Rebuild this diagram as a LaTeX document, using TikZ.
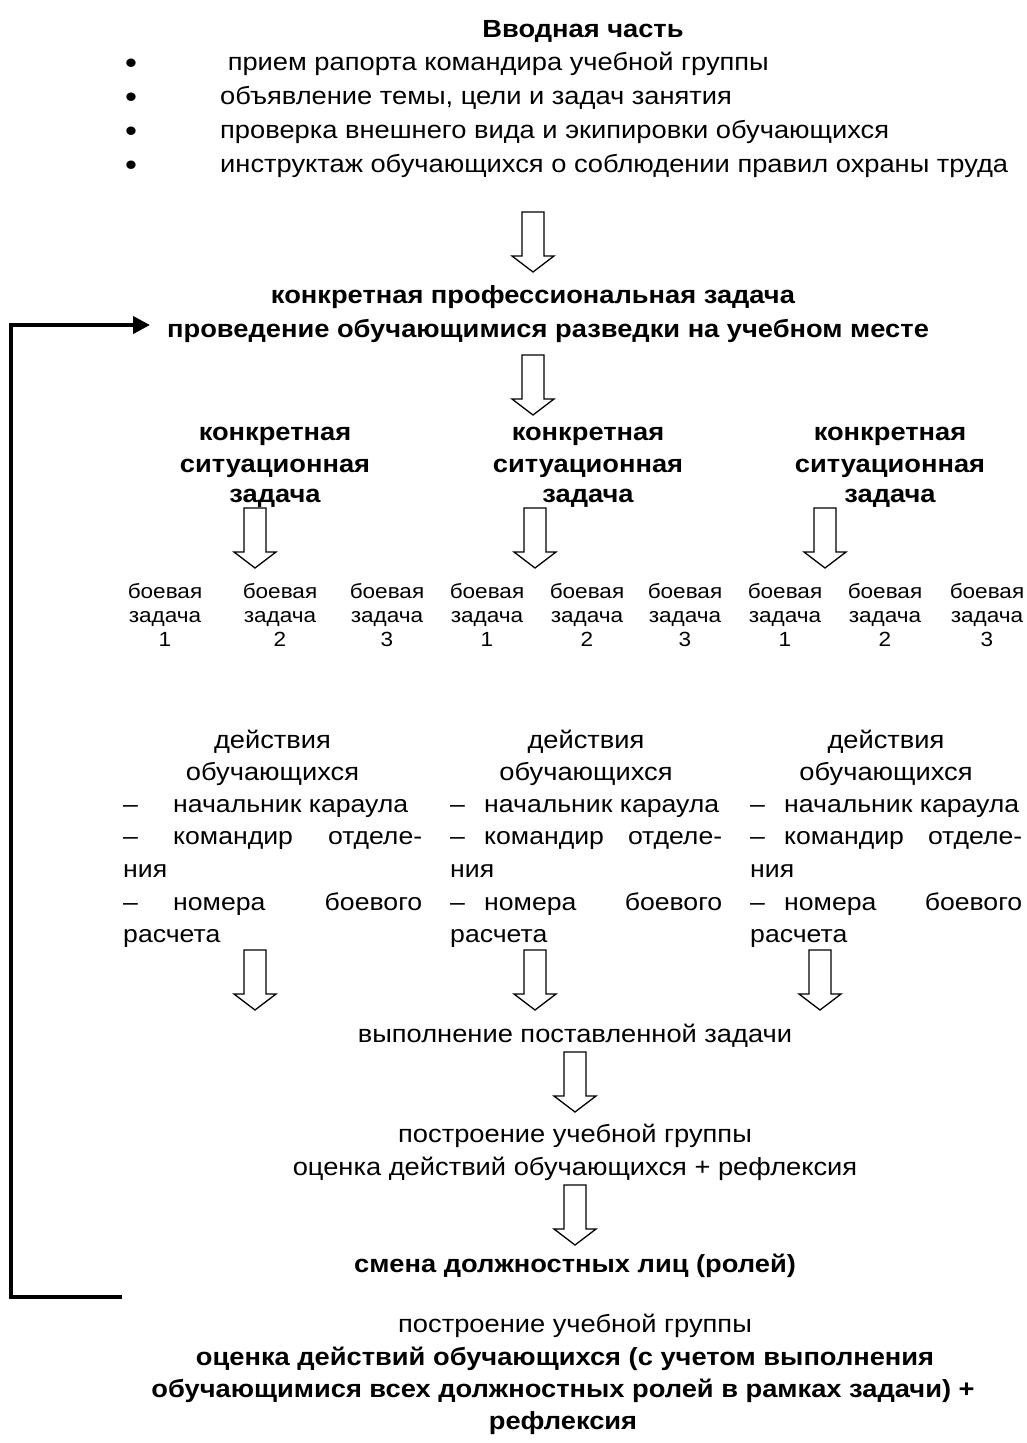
\documentclass[tikz,border=0pt]{standalone}
\usepackage{fontspec}
\setmainfont{Liberation Sans}[FakeStretch=1.1]
\usetikzlibrary{arrows.meta}
\begin{document}
\begin{tikzpicture}[x=1pt,y=-1pt,
  txt/.style={anchor=base,inner sep=0pt,font=\fontsize{24.8}{28}\selectfont},
  bld/.style={anchor=base,inner sep=0pt,font=\fontsize{24.8}{28}\selectfont\bfseries},
  sml/.style={anchor=base,inner sep=0pt,font=\fontsize{20.5}{23}\selectfont},
  lst/.style={anchor=base west,inner sep=0pt,font=\fontsize{24.8}{28}\selectfont},
  role/.style={anchor=base west,inner sep=0pt,font=\fontsize{24.2}{28}\selectfont},
  dot/.style={anchor=base,inner sep=0pt,font=\fontsize{31}{31}\selectfont},
  blockdown/.pic={\draw[line width=1.3pt,fill=white]
     (-11,0) -- (-11,44) -- (-21,44) -- (0,60) -- (21,44) -- (11,44) -- (11,0) -- cycle;},
  backloop/.style={line width=4pt,-{Triangle[length=17pt,width=17pt]}}
]
\fill[white] (0,0) rectangle (1027,1443);
\useasboundingbox (0,0) rectangle (1027,1443);

% introduction
\node[bld] (intro) at (583,37) {Вводная часть};
\foreach \i/\y/\t in {1/70/{\ прием рапорта командира учебной группы},
                      2/104/{объявление темы, цели и задач занятия},
                      3/138/{проверка внешнего вида и экипировки обучающихся},
                      4/172/{инструктаж обучающихся о соблюдении правил охраны труда}}{
  \node[dot] (dot\i) at (131,\y+3) {•};
  \node[lst] (item\i) at (220,\y) {\t};
}
\pic at (533,212) {blockdown};

% professional task
\node[bld] (prof1) at (533,303) {конкретная профессиональная задача};
\node[bld] (prof2) at (548,337) {проведение обучающимися разведки на учебном месте};
\pic at (533,355) {blockdown};

% situational tasks and combat tasks
\foreach \c/\x/\ax in {L/275/255, M/588/535, R/890/825}{
  \node[bld] (sit1\c) at (\x,440) {конкретная};
  \node[bld] (sit2\c) at (\x,472) {ситуационная};
  \node[bld] (sit3\c) at (\x,502) {задача};
  \pic at (\ax,508) {blockdown};
}
\foreach \k/\x/\n in {1/165/1, 2/280/2, 3/387/3, 4/487/1, 5/587/2, 6/685/3, 7/785/1, 8/885/2, 9/987/3}{
  \node[sml] (bz\k a) at (\x,598) {боевая};
  \node[sml] (bz\k b) at (\x,622) {задача};
  \node[sml] (bz\k c) at (\x,646) {\n};
}

% actions of the trainees
\foreach \c/\x/\w/\d/\ax in {L/123/299/50/255, M/450/272/34/535, R/750/272/34/820}{
  \node[txt] (act1\c) at (\x+\w/2,748) {действия};
  \node[txt] (act2\c) at (\x+\w/2,780) {обучающихся};
  \node[role] (role1\c) at (\x,812) {\makebox[\d pt][l]{–}начальник караула};
  \node[role] (role2\c) at (\x,844) {\makebox[\w pt][l]{\makebox[\d pt][l]{–}командир\hfill отделе-}};
  \node[role] (role3\c) at (\x,877) {ния};
  \node[role] (role4\c) at (\x,910) {\makebox[\w pt][l]{\makebox[\d pt][l]{–}номера\hfill боевого}};
  \node[role] (role5\c) at (\x,942) {расчета};
  \pic at (\ax,950) {blockdown};
}

% execution and debriefing
\node[txt] (exec) at (575,1042) {выполнение поставленной задачи};
\pic at (575,1052) {blockdown};
\node[txt] (form1) at (575,1142) {построение учебной группы};
\node[txt] (eval1) at (575,1175) {оценка действий обучающихся + рефлексия};
\pic at (575,1185) {blockdown};
\node[bld] (swap) at (575,1272) {смена должностных лиц (ролей)};
\node[txt] (form2) at (575,1332) {построение учебной группы};
\node[bld] (final1) at (565,1365) {оценка действий обучающихся (с учетом выполнения};
\node[bld] (final2) at (563,1397) {обучающимися всех должностных ролей в рамках задачи) +};
\node[bld] (final3) at (563,1429) {рефлексия};

% loop back to the professional task
\coordinate (loopstart) at (122,1297);
\coordinate (looptip) at (150,325);
\draw[backloop] (loopstart) -- ++(-111,0) |- (looptip);
\end{tikzpicture}
\end{document}
